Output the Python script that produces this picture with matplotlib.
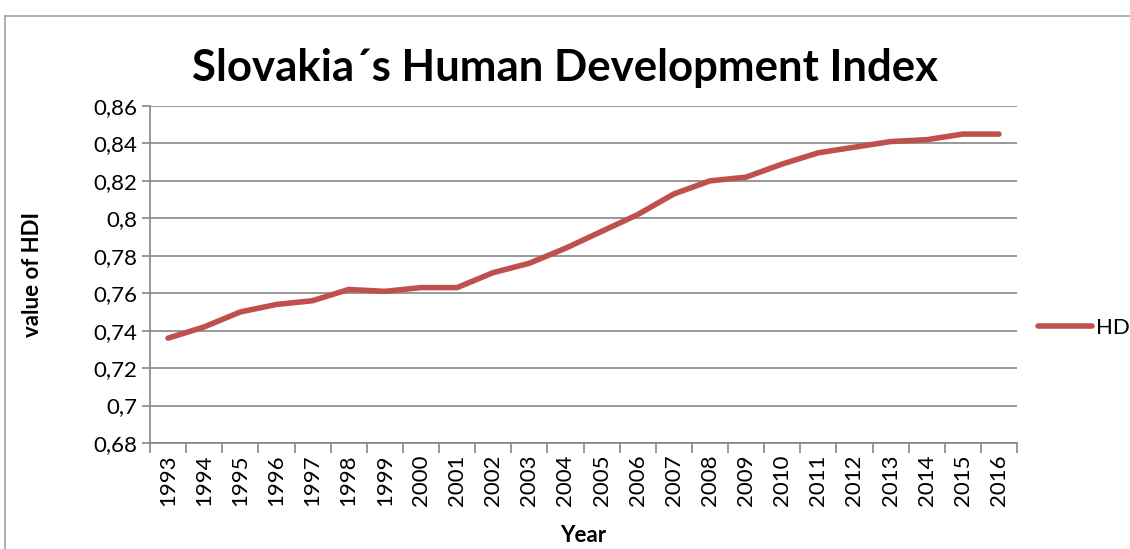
import matplotlib
matplotlib.use('Agg')
import matplotlib.pyplot as plt
from matplotlib.patches import Rectangle
import numpy as np

plt.rcParams['font.family'] = ['Lato', 'DejaVu Sans']

years = ['1993', '1994', '1995', '1996', '1997', '1998', '1999', '2000',
         '2001', '2002', '2003', '2004', '2005', '2006', '2007', '2008',
         '2009', '2010', '2011', '2012', '2013', '2014', '2015', '2016']
hdi = [0.736, 0.742, 0.750, 0.754, 0.756, 0.762, 0.761, 0.763,
       0.763, 0.771, 0.776, 0.784, 0.793, 0.802, 0.813, 0.820,
       0.822, 0.829, 0.835, 0.838, 0.841, 0.842, 0.845, 0.845]
y_ticks = [0.68, 0.70, 0.72, 0.74, 0.76, 0.78, 0.80, 0.82, 0.84, 0.86]
y_labels = ['0,68', '0,7', '0,72', '0,74', '0,76', '0,78', '0,8', '0,82', '0,84', '0,86']

fig = plt.figure(figsize=(11.3, 5.49), dpi=100)
# outer chart border
fig.patches.append(Rectangle((5 / 1130, -0.01), 1.1, 1 - 16 / 549 + 0.01,
                             transform=fig.transFigure, fill=False,
                             edgecolor='#a0a0a0', linewidth=1.2))

ax = fig.add_axes([150 / 1130, 1 - 443 / 549, 867 / 1130, 337 / 549])
x = np.arange(len(years))
line, = ax.plot(x, hdi, color='#c0504d', linewidth=4, solid_capstyle='round', label='HD')

ax.set_xlim(-0.5, len(years) - 0.5)
ax.set_ylim(0.68, 0.86)
ax.set_yticks(y_ticks)
ax.set_yticklabels(y_labels, fontsize=16)
ax.set_xticks(x)
ax.set_xticklabels(years, rotation=90, fontsize=16)
ax.tick_params(axis='x', which='major', length=0, pad=8)
ax.set_xticks(np.arange(-0.5, len(years)), minor=True)
ax.tick_params(axis='x', which='minor', length=7, color='#868686', width=1.2)
ax.tick_params(axis='y', length=6, color='#868686', width=1.2, pad=3)

ax.grid(axis='y', color='#868686', linewidth=1.2)
ax.set_axisbelow(True)
for s in ['top', 'right']:
    ax.spines[s].set_visible(False)
for s in ['left', 'bottom']:
    ax.spines[s].set_color('#868686')
    ax.spines[s].set_linewidth(1.2)

ax.set_xlabel('Year', fontsize=16, fontweight='bold', va='center')
ax.xaxis.set_label_coords(0.5, -(536 - 443) / 337)
ax.set_ylabel('value of HDI', fontsize=16, fontweight='bold', va='center')
ax.yaxis.set_label_coords((33 - 150) / 867, 0.5)
fig.text(0.5, 1 - 68 / 549, 'Slovakia\u00b4s Human Development Index',
         ha='center', va='center', fontsize=31.5, fontweight='bold')

leg = ax.legend(loc='center left', bbox_to_anchor=((1038 - 150) / 867, 1 - (328 - 106) / 337),
                frameon=False, fontsize=16, handlelength=2.45, handletextpad=0.18,
                borderaxespad=0, borderpad=0)

fig.savefig('out.png', dpi=100)
